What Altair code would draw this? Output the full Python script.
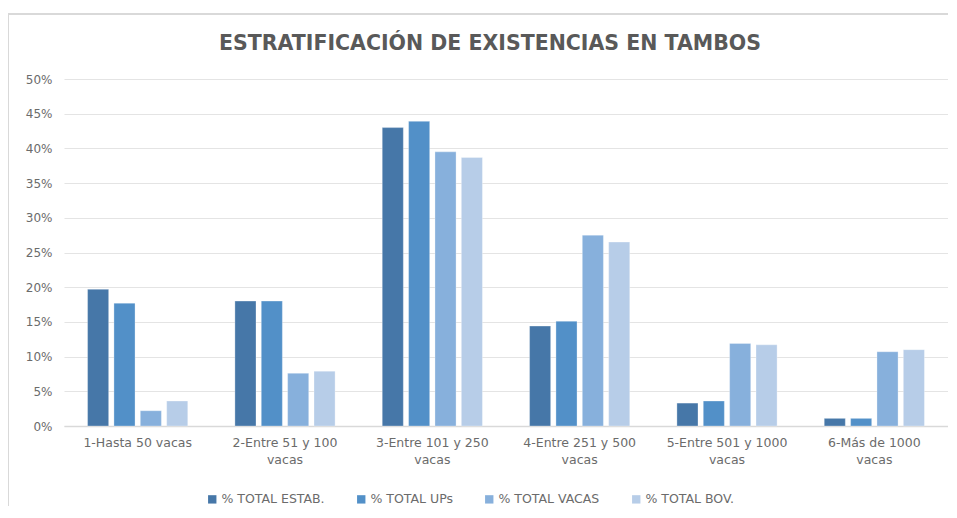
import altair as alt
import pandas as pd

categories = [
    "1-Hasta 50 vacas",
    "2-Entre 51 y 100 vacas",
    "3-Entre 101 y 250 vacas",
    "4-Entre 251 y 500 vacas",
    "5-Entre 501 y 1000 vacas",
    "6-Más de 1000 vacas",
]
label_lines = [
    ["1-Hasta 50 vacas"],
    ["2-Entre 51 y 100", "vacas"],
    ["3-Entre 101 y 250", "vacas"],
    ["4-Entre 251 y 500", "vacas"],
    ["5-Entre 501 y 1000", "vacas"],
    ["6-Más de 1000", "vacas"],
]
series = ["% TOTAL ESTAB.", "% TOTAL UPs", "% TOTAL VACAS", "% TOTAL BOV."]
estab = [0.197, 0.180, 0.430, 0.144, 0.033, 0.011]
ups = [0.177, 0.180, 0.439, 0.151, 0.036, 0.011]
vacas = [0.022, 0.076, 0.395, 0.275, 0.119, 0.107]
bov = [0.036, 0.079, 0.387, 0.265, 0.117, 0.110]
colors = ["#4677a8", "#5290c8", "#87b0dc", "#b7cde8"]

rows = []
for s, vals in zip(series, [estab, ups, vacas, bov]):
    for c, v in zip(categories, vals):
        rows.append({"cat": c, "serie": s, "val": v})
df = pd.DataFrame(rows)

expr_parts = []
for c, lines in zip(categories, label_lines):
    arr = "[" + ",".join("'" + l + "'" for l in lines) + "]"
    expr_parts.append(f"datum.label == '{c}' ? {arr}")
label_expr = " : ".join(expr_parts) + " : datum.label"

FONT = "DejaVu Sans"
GRAY = "#595959"
LBL = "#6b6b6b"

bars = alt.Chart(df).mark_bar(stroke="white", strokeWidth=0.5, strokeOpacity=0.6).encode(
    x=alt.X("cat:N", sort=categories, title=None,
            scale=alt.Scale(paddingInner=0.32, paddingOuter=0.16),
            axis=alt.Axis(labelAngle=0, labelExpr=label_expr, ticks=False,
                          domainColor="#d9d9d9", domainWidth=1.5,
                          labelColor=LBL, labelFont=FONT, labelFontSize=12.5,
                          labelPadding=10, labelLineHeight=17)),
    xOffset=alt.XOffset("serie:N", sort=series, scale=alt.Scale(paddingInner=0.2)),
    y=alt.Y("val:Q", title=None,
            scale=alt.Scale(domain=[0, 0.5]),
            axis=alt.Axis(format=".0%", values=[i * 0.05 for i in range(11)],
                          ticks=False, domain=False, gridColor="#e4e4e4",
                          gridWidth=1.2, labelColor=LBL, labelFont=FONT,
                          labelFontSize=12, labelPadding=12)),
    color=alt.Color("serie:N", sort=series,
                    scale=alt.Scale(domain=series, range=colors),
                    legend=alt.Legend(title=None, orient="none", direction="horizontal",
                                      legendX=142, legendY=414,
                                      symbolType="square", symbolSize=70,
                                      symbolStrokeWidth=0, labelColor=LBL,
                                      labelFont=FONT, labelFontSize=12.5,
                                      columnPadding=30, labelOffset=3)),
)

frame_top = alt.Chart(df).mark_rule(color="#d9d9d9", strokeWidth=2).encode(
    x=alt.value(-56), x2=alt.value(900), y=alt.value(-65)
)
frame_left = alt.Chart(df).mark_rule(color="#d9d9d9", strokeWidth=2).encode(
    x=alt.value(-56), y=alt.value(-65), y2=alt.value(440)
)

chart = alt.layer(frame_top, frame_left, bars).properties(
    width=884, height=347,
    autosize=alt.AutoSizeParams(type="none"),
    padding={"left": 56, "top": 71, "right": 0, "bottom": 80},
    title=alt.TitleParams("ESTRATIFICACIÓN DE EXISTENCIAS EN TAMBOS", font=FONT,
                          fontSize=20.5, fontWeight="bold", color=GRAY,
                          anchor="middle", frame="group", dx=-16, offset=-41),
).configure_view(stroke=None)

chart.save("out.html", embed_options={"renderer": "svg", "actions": False})
